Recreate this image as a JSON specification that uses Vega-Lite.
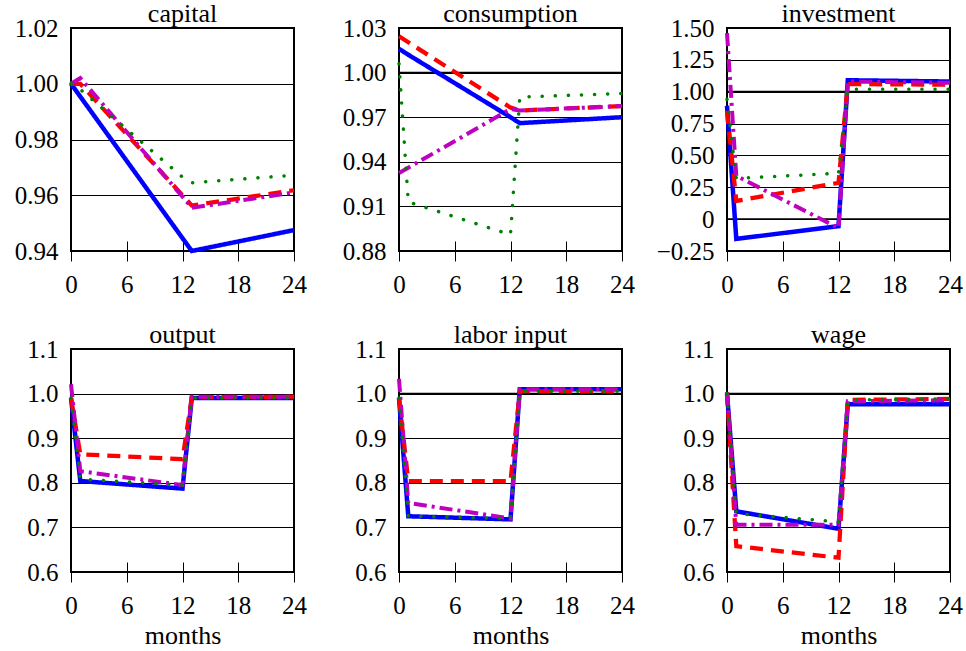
{
  "$schema": "https://vega.github.io/schema/vega-lite/v6.json",
  "padding": {"left": 13, "top": 0, "right": 0, "bottom": 0},
  "bounds": "flush",
  "columns": 3,
  "spacing": {"row": 98, "column": 105},
  "datasets": {
    "d": [
      {"panel":"capital","series":"s1","month":0,"value":1.000},
      {"panel":"capital","series":"s1","month":1,"value":0.9954},
      {"panel":"capital","series":"s1","month":12,"value":0.9446},
      {"panel":"capital","series":"s1","month":13,"value":0.940},
      {"panel":"capital","series":"s1","month":24,"value":0.9475},
      {"panel":"capital","series":"s2","month":0,"value":1.000},
      {"panel":"capital","series":"s2","month":1,"value":1.000},
      {"panel":"capital","series":"s2","month":12,"value":0.960},
      {"panel":"capital","series":"s2","month":13,"value":0.9563},
      {"panel":"capital","series":"s2","month":24,"value":0.9618},
      {"panel":"capital","series":"s3","month":0,"value":1.000},
      {"panel":"capital","series":"s3","month":1,"value":0.998},
      {"panel":"capital","series":"s3","month":12,"value":0.9665},
      {"panel":"capital","series":"s3","month":13,"value":0.9645},
      {"panel":"capital","series":"s3","month":24,"value":0.9672},
      {"panel":"capital","series":"s4","month":0,"value":1.000},
      {"panel":"capital","series":"s4","month":1,"value":1.002},
      {"panel":"capital","series":"s4","month":12,"value":0.9595},
      {"panel":"capital","series":"s4","month":13,"value":0.9555},
      {"panel":"capital","series":"s4","month":24,"value":0.961},

      {"panel":"consumption","series":"s1","month":0,"value":1.016},
      {"panel":"consumption","series":"s1","month":1,"value":1.012},
      {"panel":"consumption","series":"s1","month":12,"value":0.970},
      {"panel":"consumption","series":"s1","month":13,"value":0.966},
      {"panel":"consumption","series":"s1","month":24,"value":0.970},
      {"panel":"consumption","series":"s2","month":0,"value":1.0244},
      {"panel":"consumption","series":"s2","month":1,"value":1.0204},
      {"panel":"consumption","series":"s2","month":12,"value":0.9765},
      {"panel":"consumption","series":"s2","month":13,"value":0.9745},
      {"panel":"consumption","series":"s2","month":24,"value":0.9775},
      {"panel":"consumption","series":"s3","month":0,"value":1.006},
      {"panel":"consumption","series":"s3","month":1,"value":0.913},
      {"panel":"consumption","series":"s3","month":12,"value":0.891},
      {"panel":"consumption","series":"s3","month":13,"value":0.9835},
      {"panel":"consumption","series":"s3","month":24,"value":0.986},
      {"panel":"consumption","series":"s4","month":0,"value":0.9325},
      {"panel":"consumption","series":"s4","month":1,"value":0.936},
      {"panel":"consumption","series":"s4","month":12,"value":0.9755},
      {"panel":"consumption","series":"s4","month":13,"value":0.9745},
      {"panel":"consumption","series":"s4","month":24,"value":0.9775},

      {"panel":"investment","series":"s1","month":0,"value":0.89},
      {"panel":"investment","series":"s1","month":1,"value":-0.155},
      {"panel":"investment","series":"s1","month":12,"value":-0.055},
      {"panel":"investment","series":"s1","month":13,"value":1.09},
      {"panel":"investment","series":"s1","month":24,"value":1.08},
      {"panel":"investment","series":"s2","month":0,"value":0.85},
      {"panel":"investment","series":"s2","month":1,"value":0.143},
      {"panel":"investment","series":"s2","month":12,"value":0.285},
      {"panel":"investment","series":"s2","month":13,"value":1.06},
      {"panel":"investment","series":"s2","month":24,"value":1.055},
      {"panel":"investment","series":"s3","month":0,"value":0.94},
      {"panel":"investment","series":"s3","month":1,"value":0.32},
      {"panel":"investment","series":"s3","month":12,"value":0.36},
      {"panel":"investment","series":"s3","month":13,"value":1.02},
      {"panel":"investment","series":"s3","month":24,"value":1.02},
      {"panel":"investment","series":"s4","month":0,"value":1.46},
      {"panel":"investment","series":"s4","month":1,"value":0.34},
      {"panel":"investment","series":"s4","month":12,"value":-0.07},
      {"panel":"investment","series":"s4","month":13,"value":1.08},
      {"panel":"investment","series":"s4","month":24,"value":1.07},

      {"panel":"output","series":"s1","month":0,"value":0.99},
      {"panel":"output","series":"s1","month":1,"value":0.804},
      {"panel":"output","series":"s1","month":12,"value":0.787},
      {"panel":"output","series":"s1","month":13,"value":0.99},
      {"panel":"output","series":"s1","month":24,"value":0.99},
      {"panel":"output","series":"s2","month":0,"value":0.99},
      {"panel":"output","series":"s2","month":1,"value":0.864},
      {"panel":"output","series":"s2","month":12,"value":0.853},
      {"panel":"output","series":"s2","month":13,"value":0.992},
      {"panel":"output","series":"s2","month":24,"value":0.993},
      {"panel":"output","series":"s3","month":0,"value":0.99},
      {"panel":"output","series":"s3","month":1,"value":0.808},
      {"panel":"output","series":"s3","month":12,"value":0.795},
      {"panel":"output","series":"s3","month":13,"value":0.99},
      {"panel":"output","series":"s3","month":24,"value":0.99},
      {"panel":"output","series":"s4","month":0,"value":1.021},
      {"panel":"output","series":"s4","month":1,"value":0.826},
      {"panel":"output","series":"s4","month":12,"value":0.795},
      {"panel":"output","series":"s4","month":13,"value":0.993},
      {"panel":"output","series":"s4","month":24,"value":0.993},

      {"panel":"labor input","series":"s1","month":0,"value":0.99},
      {"panel":"labor input","series":"s1","month":1,"value":0.725},
      {"panel":"labor input","series":"s1","month":12,"value":0.718},
      {"panel":"labor input","series":"s1","month":13,"value":1.01},
      {"panel":"labor input","series":"s1","month":24,"value":1.01},
      {"panel":"labor input","series":"s2","month":0,"value":0.99},
      {"panel":"labor input","series":"s2","month":1,"value":0.804},
      {"panel":"labor input","series":"s2","month":12,"value":0.804},
      {"panel":"labor input","series":"s2","month":13,"value":1.005},
      {"panel":"labor input","series":"s2","month":24,"value":1.005},
      {"panel":"labor input","series":"s3","month":0,"value":0.99},
      {"panel":"labor input","series":"s3","month":1,"value":0.725},
      {"panel":"labor input","series":"s3","month":12,"value":0.72},
      {"panel":"labor input","series":"s3","month":13,"value":1.005},
      {"panel":"labor input","series":"s3","month":24,"value":1.005},
      {"panel":"labor input","series":"s4","month":0,"value":1.033},
      {"panel":"labor input","series":"s4","month":1,"value":0.755},
      {"panel":"labor input","series":"s4","month":12,"value":0.72},
      {"panel":"labor input","series":"s4","month":13,"value":1.01},
      {"panel":"labor input","series":"s4","month":24,"value":1.01},

      {"panel":"wage","series":"s1","month":0,"value":1.0},
      {"panel":"wage","series":"s1","month":1,"value":0.736},
      {"panel":"wage","series":"s1","month":12,"value":0.697},
      {"panel":"wage","series":"s1","month":13,"value":0.976},
      {"panel":"wage","series":"s1","month":24,"value":0.976},
      {"panel":"wage","series":"s2","month":0,"value":1.003},
      {"panel":"wage","series":"s2","month":1,"value":0.658},
      {"panel":"wage","series":"s2","month":12,"value":0.632},
      {"panel":"wage","series":"s2","month":13,"value":0.986},
      {"panel":"wage","series":"s2","month":24,"value":0.988},
      {"panel":"wage","series":"s3","month":0,"value":1.0},
      {"panel":"wage","series":"s3","month":1,"value":0.731},
      {"panel":"wage","series":"s3","month":12,"value":0.7125},
      {"panel":"wage","series":"s3","month":13,"value":0.986},
      {"panel":"wage","series":"s3","month":24,"value":0.988},
      {"panel":"wage","series":"s4","month":0,"value":1.003},
      {"panel":"wage","series":"s4","month":1,"value":0.706},
      {"panel":"wage","series":"s4","month":12,"value":0.706},
      {"panel":"wage","series":"s4","month":13,"value":0.983},
      {"panel":"wage","series":"s4","month":24,"value":0.985}
    ]
  },
  "concat": [
    {
      "title": "capital", "width": 223, "height": 223,
      "layer": [
        {"data": {"name": "d"},
         "transform": [{"filter": "datum.panel === 'capital' && datum.series !== 's3'"}],
         "mark": {"type": "line", "strokeCap": "butt", "strokeJoin": "miter"},
         "encoding": {
           "x": {"field": "month", "type": "quantitative", "scale": {"domain": [0, 24], "nice": false}, "axis": {"values": [0, 6, 12, 18, 24], "title": null}},
           "y": {"field": "value", "type": "quantitative", "scale": {"domain": [0.94, 1.02], "zero": false, "nice": false}, "axis": {"values": [0.94, 0.96, 0.98, 1.0, 1.02], "format": ".2f", "title": null}},
           "color": {"field": "series", "type": "nominal", "scale": {"domain": ["s1", "s2", "s4"], "range": ["#0000ff", "#ff0000", "#bf00bf"]}, "legend": null},
           "strokeDash": {"field": "series", "type": "nominal", "scale": {"domain": ["s1", "s2", "s4"], "range": [[1, 0], [13, 8], [13, 5, 3, 5]]}, "legend": null},
           "strokeWidth": {"field": "series", "type": "ordinal", "scale": {"domain": ["s1", "s2", "s4"], "range": [4.5, 4, 4]}, "legend": null}
         }},
        {"data": {"name": "d"},
         "transform": [{"filter": "datum.panel === 'capital' && datum.series === 's3'"}],
         "mark": {"type": "line", "color": "#008000", "strokeCap": "round", "strokeDash": [0.1, 13], "strokeWidth": 3.5},
         "encoding": {
           "x": {"field": "month", "type": "quantitative", "scale": {"domain": [0, 24], "nice": false}, "axis": {"values": [0, 6, 12, 18, 24], "title": null}},
           "y": {"field": "value", "type": "quantitative", "scale": {"domain": [0.94, 1.02], "zero": false, "nice": false}, "axis": {"values": [0.94, 0.96, 0.98, 1.0, 1.02], "format": ".2f", "title": null}}
         }}
      ]
    },
    {
      "title": "consumption", "width": 223, "height": 223,
      "layer": [
        {"data": {"values": [{"ref": 1.0}]},
         "mark": {"type": "rule", "color": "black", "strokeWidth": 1.8},
         "encoding": {"y": {"field": "ref", "type": "quantitative", "scale": {"domain": [0.88, 1.03], "zero": false, "nice": false}, "axis": {"values": [0.88, 0.91, 0.94, 0.97, 1.0, 1.03], "format": ".2f", "title": null}}}},
        {"data": {"name": "d"},
         "transform": [{"filter": "datum.panel === 'consumption' && datum.series !== 's3'"}],
         "mark": {"type": "line", "strokeCap": "butt", "strokeJoin": "miter"},
         "encoding": {
           "x": {"field": "month", "type": "quantitative", "scale": {"domain": [0, 24], "nice": false}, "axis": {"values": [0, 6, 12, 18, 24], "title": null}},
           "y": {"field": "value", "type": "quantitative", "scale": {"domain": [0.88, 1.03], "zero": false, "nice": false}, "axis": {"values": [0.88, 0.91, 0.94, 0.97, 1.0, 1.03], "format": ".2f", "title": null}},
           "color": {"field": "series", "type": "nominal", "scale": {"domain": ["s1", "s2", "s4"], "range": ["#0000ff", "#ff0000", "#bf00bf"]}, "legend": null},
           "strokeDash": {"field": "series", "type": "nominal", "scale": {"domain": ["s1", "s2", "s4"], "range": [[1, 0], [13, 8], [13, 5, 3, 5]]}, "legend": null},
           "strokeWidth": {"field": "series", "type": "ordinal", "scale": {"domain": ["s1", "s2", "s4"], "range": [4.5, 4, 4]}, "legend": null}
         }},
        {"data": {"name": "d"},
         "transform": [{"filter": "datum.panel === 'consumption' && datum.series === 's3'"}],
         "mark": {"type": "line", "color": "#008000", "strokeCap": "round", "strokeDash": [0.1, 13], "strokeWidth": 3.5},
         "encoding": {
           "x": {"field": "month", "type": "quantitative", "scale": {"domain": [0, 24], "nice": false}, "axis": {"values": [0, 6, 12, 18, 24], "title": null}},
           "y": {"field": "value", "type": "quantitative", "scale": {"domain": [0.88, 1.03], "zero": false, "nice": false}, "axis": {"values": [0.88, 0.91, 0.94, 0.97, 1.0, 1.03], "format": ".2f", "title": null}}
         }}
      ]
    },
    {
      "title": "investment", "width": 223, "height": 223,
      "layer": [
        {"data": {"values": [{"ref": 0.0}, {"ref": 1.0}]},
         "mark": {"type": "rule", "color": "black", "strokeWidth": 1.8},
         "encoding": {"y": {"field": "ref", "type": "quantitative", "scale": {"domain": [-0.25, 1.5], "zero": false, "nice": false}, "axis": {"values": [-0.25, 0, 0.25, 0.5, 0.75, 1.0, 1.25, 1.5], "labelExpr": "datum.value === 0 ? '0' : format(datum.value, '.2f')", "title": null}}}},
        {"data": {"name": "d"},
         "transform": [{"filter": "datum.panel === 'investment' && datum.series !== 's3'"}],
         "mark": {"type": "line", "strokeCap": "butt", "strokeJoin": "miter"},
         "encoding": {
           "x": {"field": "month", "type": "quantitative", "scale": {"domain": [0, 24], "nice": false}, "axis": {"values": [0, 6, 12, 18, 24], "title": null}},
           "y": {"field": "value", "type": "quantitative", "scale": {"domain": [-0.25, 1.5], "zero": false, "nice": false}, "axis": {"values": [-0.25, 0, 0.25, 0.5, 0.75, 1.0, 1.25, 1.5], "labelExpr": "datum.value === 0 ? '0' : format(datum.value, '.2f')", "title": null}},
           "color": {"field": "series", "type": "nominal", "scale": {"domain": ["s1", "s2", "s4"], "range": ["#0000ff", "#ff0000", "#bf00bf"]}, "legend": null},
           "strokeDash": {"field": "series", "type": "nominal", "scale": {"domain": ["s1", "s2", "s4"], "range": [[1, 0], [13, 8], [13, 5, 3, 5]]}, "legend": null},
           "strokeWidth": {"field": "series", "type": "ordinal", "scale": {"domain": ["s1", "s2", "s4"], "range": [4.5, 4, 4]}, "legend": null}
         }},
        {"data": {"name": "d"},
         "transform": [{"filter": "datum.panel === 'investment' && datum.series === 's3'"}],
         "mark": {"type": "line", "color": "#008000", "strokeCap": "round", "strokeDash": [0.1, 13], "strokeWidth": 3.5},
         "encoding": {
           "x": {"field": "month", "type": "quantitative", "scale": {"domain": [0, 24], "nice": false}, "axis": {"values": [0, 6, 12, 18, 24], "title": null}},
           "y": {"field": "value", "type": "quantitative", "scale": {"domain": [-0.25, 1.5], "zero": false, "nice": false}, "axis": {"values": [-0.25, 0, 0.25, 0.5, 0.75, 1.0, 1.25, 1.5], "labelExpr": "datum.value === 0 ? '0' : format(datum.value, '.2f')", "title": null}}
         }}
      ]
    },
    {
      "title": "output", "width": 223, "height": 223,
      "layer": [
        {"data": {"name": "d"},
         "transform": [{"filter": "datum.panel === 'output' && datum.series !== 's3'"}],
         "mark": {"type": "line", "strokeCap": "butt", "strokeJoin": "miter"},
         "encoding": {
           "x": {"field": "month", "type": "quantitative", "scale": {"domain": [0, 24], "nice": false}, "axis": {"values": [0, 6, 12, 18, 24], "title": "months"}},
           "y": {"field": "value", "type": "quantitative", "scale": {"domain": [0.6, 1.1], "zero": false, "nice": false}, "axis": {"values": [0.6, 0.7, 0.8, 0.9, 1.0, 1.1], "format": ".1f", "title": null}},
           "color": {"field": "series", "type": "nominal", "scale": {"domain": ["s1", "s2", "s4"], "range": ["#0000ff", "#ff0000", "#bf00bf"]}, "legend": null},
           "strokeDash": {"field": "series", "type": "nominal", "scale": {"domain": ["s1", "s2", "s4"], "range": [[1, 0], [13, 8], [13, 5, 3, 5]]}, "legend": null},
           "strokeWidth": {"field": "series", "type": "ordinal", "scale": {"domain": ["s1", "s2", "s4"], "range": [4.5, 4, 4]}, "legend": null}
         }},
        {"data": {"name": "d"},
         "transform": [{"filter": "datum.panel === 'output' && datum.series === 's3'"}],
         "mark": {"type": "line", "color": "#008000", "strokeCap": "round", "strokeDash": [0.1, 13], "strokeWidth": 3.5},
         "encoding": {
           "x": {"field": "month", "type": "quantitative", "scale": {"domain": [0, 24], "nice": false}, "axis": {"values": [0, 6, 12, 18, 24], "title": "months"}},
           "y": {"field": "value", "type": "quantitative", "scale": {"domain": [0.6, 1.1], "zero": false, "nice": false}, "axis": {"values": [0.6, 0.7, 0.8, 0.9, 1.0, 1.1], "format": ".1f", "title": null}}
         }}
      ]
    },
    {
      "title": "labor input", "width": 223, "height": 223,
      "layer": [
        {"data": {"values": [{"ref": 1.0}]},
         "mark": {"type": "rule", "color": "black", "strokeWidth": 1.8},
         "encoding": {"y": {"field": "ref", "type": "quantitative", "scale": {"domain": [0.6, 1.1], "zero": false, "nice": false}, "axis": {"values": [0.6, 0.7, 0.8, 0.9, 1.0, 1.1], "format": ".1f", "title": null}}}},
        {"data": {"name": "d"},
         "transform": [{"filter": "datum.panel === 'labor input' && datum.series !== 's3'"}],
         "mark": {"type": "line", "strokeCap": "butt", "strokeJoin": "miter"},
         "encoding": {
           "x": {"field": "month", "type": "quantitative", "scale": {"domain": [0, 24], "nice": false}, "axis": {"values": [0, 6, 12, 18, 24], "title": "months"}},
           "y": {"field": "value", "type": "quantitative", "scale": {"domain": [0.6, 1.1], "zero": false, "nice": false}, "axis": {"values": [0.6, 0.7, 0.8, 0.9, 1.0, 1.1], "format": ".1f", "title": null}},
           "color": {"field": "series", "type": "nominal", "scale": {"domain": ["s1", "s2", "s4"], "range": ["#0000ff", "#ff0000", "#bf00bf"]}, "legend": null},
           "strokeDash": {"field": "series", "type": "nominal", "scale": {"domain": ["s1", "s2", "s4"], "range": [[1, 0], [13, 8], [13, 5, 3, 5]]}, "legend": null},
           "strokeWidth": {"field": "series", "type": "ordinal", "scale": {"domain": ["s1", "s2", "s4"], "range": [4.5, 4, 4]}, "legend": null}
         }},
        {"data": {"name": "d"},
         "transform": [{"filter": "datum.panel === 'labor input' && datum.series === 's3'"}],
         "mark": {"type": "line", "color": "#008000", "strokeCap": "round", "strokeDash": [0.1, 13], "strokeWidth": 3.5},
         "encoding": {
           "x": {"field": "month", "type": "quantitative", "scale": {"domain": [0, 24], "nice": false}, "axis": {"values": [0, 6, 12, 18, 24], "title": "months"}},
           "y": {"field": "value", "type": "quantitative", "scale": {"domain": [0.6, 1.1], "zero": false, "nice": false}, "axis": {"values": [0.6, 0.7, 0.8, 0.9, 1.0, 1.1], "format": ".1f", "title": null}}
         }}
      ]
    },
    {
      "title": "wage", "width": 223, "height": 223,
      "layer": [
        {"data": {"values": [{"ref": 1.0}]},
         "mark": {"type": "rule", "color": "black", "strokeWidth": 1.8},
         "encoding": {"y": {"field": "ref", "type": "quantitative", "scale": {"domain": [0.6, 1.1], "zero": false, "nice": false}, "axis": {"values": [0.6, 0.7, 0.8, 0.9, 1.0, 1.1], "format": ".1f", "title": null}}}},
        {"data": {"name": "d"},
         "transform": [{"filter": "datum.panel === 'wage' && datum.series !== 's3'"}],
         "mark": {"type": "line", "strokeCap": "butt", "strokeJoin": "miter"},
         "encoding": {
           "x": {"field": "month", "type": "quantitative", "scale": {"domain": [0, 24], "nice": false}, "axis": {"values": [0, 6, 12, 18, 24], "title": "months"}},
           "y": {"field": "value", "type": "quantitative", "scale": {"domain": [0.6, 1.1], "zero": false, "nice": false}, "axis": {"values": [0.6, 0.7, 0.8, 0.9, 1.0, 1.1], "format": ".1f", "title": null}},
           "color": {"field": "series", "type": "nominal", "scale": {"domain": ["s1", "s2", "s4"], "range": ["#0000ff", "#ff0000", "#bf00bf"]}, "legend": null},
           "strokeDash": {"field": "series", "type": "nominal", "scale": {"domain": ["s1", "s2", "s4"], "range": [[1, 0], [13, 8], [13, 5, 3, 5]]}, "legend": null},
           "strokeWidth": {"field": "series", "type": "ordinal", "scale": {"domain": ["s1", "s2", "s4"], "range": [4.5, 4, 4]}, "legend": null}
         }},
        {"data": {"name": "d"},
         "transform": [{"filter": "datum.panel === 'wage' && datum.series === 's3'"}],
         "mark": {"type": "line", "color": "#008000", "strokeCap": "round", "strokeDash": [0.1, 13], "strokeWidth": 3.5},
         "encoding": {
           "x": {"field": "month", "type": "quantitative", "scale": {"domain": [0, 24], "nice": false}, "axis": {"values": [0, 6, 12, 18, 24], "title": "months"}},
           "y": {"field": "value", "type": "quantitative", "scale": {"domain": [0.6, 1.1], "zero": false, "nice": false}, "axis": {"values": [0.6, 0.7, 0.8, 0.9, 1.0, 1.1], "format": ".1f", "title": null}}
         }}
      ]
    }
  ],
  "config": {
    "font": "Liberation Serif",
    "background": "white",
    "view": {"stroke": "black", "strokeWidth": 2},
    "axis": {"labelFont": "Liberation Serif", "labelFontSize": 25, "labelColor": "black", "labelOverlap": false, "titleFont": "Liberation Serif", "titleFontSize": 26, "titleFontWeight": "normal", "titleColor": "black", "domain": false, "tickColor": "black", "tickWidth": 1},
    "axisX": {"grid": false, "offset": -10, "tickSize": 20, "labelPadding": 11, "titlePadding": 4, "labelFlush": false},
    "axisY": {"grid": true, "gridColor": "black", "gridWidth": 1, "gridOpacity": 1, "ticks": false, "labelPadding": 13},
    "title": {"font": "Liberation Serif", "fontSize": 26, "fontWeight": "normal", "color": "black", "offset": -11}
  }
}
